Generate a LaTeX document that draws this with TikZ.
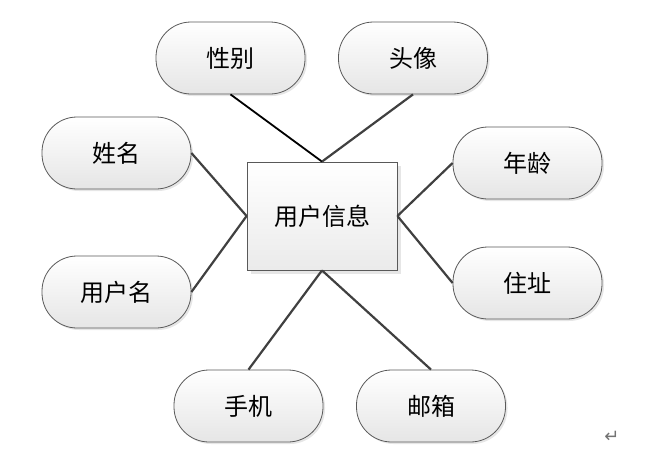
\documentclass[tikz,border=0pt]{standalone}
\usepackage{fontspec}
\newfontfamily\cjk{Noto Sans CJK SC}
\newfontfamily\symfont{DejaVu Sans}
\usetikzlibrary{shadows}

\begin{document}
\begin{tikzpicture}[x=1pt,y=-1pt,every node/.style={font=\cjk\fontsize{24}{28}\selectfont},
  attr/.style={draw=black!65,line width=0.8pt,rounded corners=35pt,minimum width=149pt,minimum height=72pt,
    top color=white,bottom color=black!10,drop shadow={shadow xshift=2pt,shadow yshift=-2pt,fill=black!12,opacity=0.8}},
  entity/.style={draw=black!65,line width=0.8pt,minimum width=150pt,minimum height=108pt,
    top color=white,bottom color=black!8,drop shadow={shadow xshift=4pt,shadow yshift=-4pt,fill=black!12,opacity=0.8}},
  link/.style={draw=black!75,line width=2.2pt}]
  \useasboundingbox (0,0) rectangle (659,453);
  \node[entity] (info) at (322,216) {用户信息};
  \node[attr] (xb) at (230.5,58) {性别};
  \node[attr] (tx) at (413,58) {头像};
  \node[attr] (xm) at (116.5,153) {姓名};
  \node[attr] (yhm) at (116.5,292) {用户名};
  \node[attr] (nl) at (527.5,163) {年龄};
  \node[attr] (zz) at (527.5,283) {住址};
  \node[attr] (sj) at (248.5,406) {手机};
  \node[attr] (yx) at (431,406) {邮箱};
  \draw[line width=1.8pt] (xb.south) -- (info.north);
  \draw[link] (tx.south) -- (info.north);
  \draw[link] (xm.east) -- (info.west);
  \draw[link] (yhm.east) -- (info.west);
  \draw[link] (nl.west) -- (info.east);
  \draw[link] (zz.west) -- (info.east);
  \draw[link] (sj.north) -- (info.south);
  \draw[link] (yx.north) -- (info.south);
  \node[text=black!55,font=\symfont\fontsize{18}{20}\selectfont] (ret) at (612,437) {↵};
\end{tikzpicture}
\end{document}
